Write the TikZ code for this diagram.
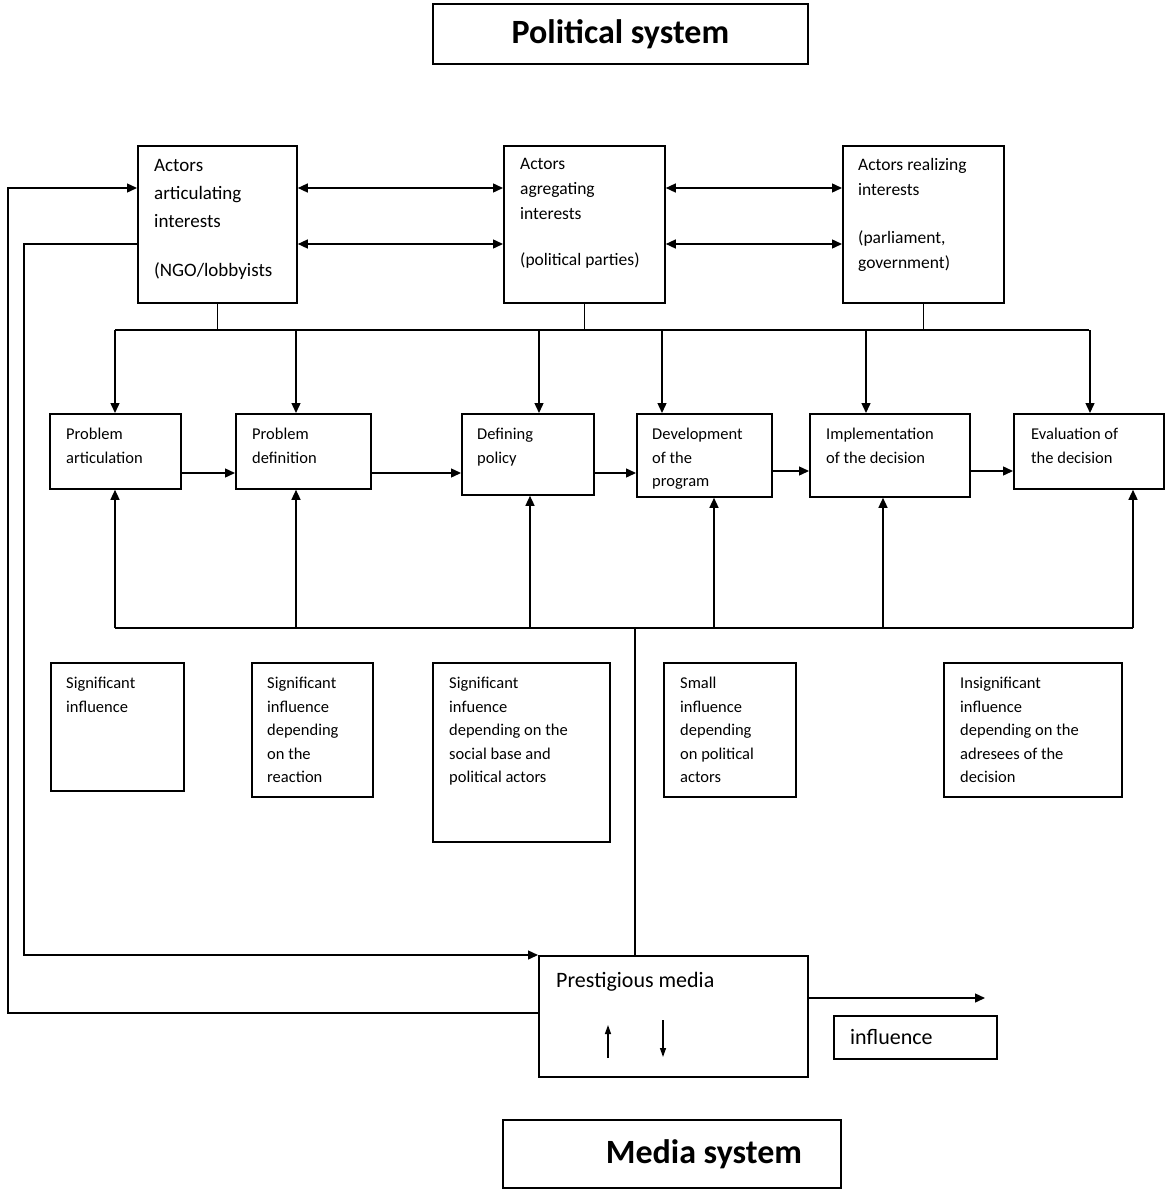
\documentclass[tikz,border=0pt]{standalone}
\usepackage{fontspec}
\setmainfont{Carlito}
\usetikzlibrary{arrows.meta}
\begin{document}
\begin{tikzpicture}[x=1pt,y=-1pt,>={Triangle[length=10pt,width=9pt]},
  box/.style 2 args={draw,line width=1.8pt,rectangle,anchor=north west,inner sep=0pt,minimum width=#1,minimum height=#2},
  intext/.style={anchor=north west,align=left,inner sep=0pt,font=\fontsize{16.5}{23.5}\selectfont},
  toptext/.style={anchor=north west,align=left,inner sep=0pt,font=\fontsize{17.5}{25}\selectfont},
  heading/.style={font=\fontsize{34}{40}\selectfont\bfseries},
  wire/.style={line width=1.4pt}]
  \useasboundingbox (0,0) rectangle (1165,1191);

  \node[box={375pt}{60pt},label={[heading]center:Political system}] (pols) at (432,3) {};
  \node[box={338pt}{68pt},label={[heading,xshift=32pt]center:Media system}] (meds) at (502,1119) {};

  \node[box={159pt}{157pt},label={[toptext,font=\fontsize{19}{28}\selectfont,xshift=17pt,yshift=-14pt]north west:{Actors\\articulating\\interests\\[21pt](NGO/lobbyists}}] (aart) at (137,145) {};
  \node[box={161pt}{157pt},label={[toptext,xshift=17pt,yshift=-13pt]north west:{Actors\\agregating\\interests\\[21pt](political parties)}}] (aagg) at (503,145) {};
  \node[box={161pt}{157pt},label={[toptext,xshift=16pt,yshift=-13pt]north west:{Actors realizing\\interests\\[23pt](parliament,\\government)}}] (arel) at (842,145) {};

  \node[box={131pt}{75pt},label={[intext,xshift=17pt,yshift=-15pt]north west:{Problem\\articulation}}] (pa) at (49,413) {};
  \node[box={135pt}{75pt},label={[intext,xshift=17pt,yshift=-15pt]north west:{Problem\\definition}}] (pd) at (235,413) {};
  \node[box={132pt}{81pt},label={[intext,xshift=16pt,yshift=-15pt]north west:{Defining\\policy}}] (dp) at (461,413) {};
  \node[box={135pt}{83pt},label={[intext,xshift=16pt,yshift=-15pt]north west:{Development\\of the\\program}}] (dv) at (636,413) {};
  \node[box={160pt}{83pt},label={[intext,xshift=17pt,yshift=-15pt]north west:{Implementation\\of the decision}}] (im) at (809,413) {};
  \node[box={150pt}{75pt},label={[intext,xshift=18pt,yshift=-15pt]north west:{Evaluation of\\the decision}}] (ev) at (1013,413) {};

  \node[box={133pt}{128pt},label={[intext,xshift=16pt,yshift=-15pt]north west:{Significant\\influence}}] (inf1) at (50,662) {};
  \node[box={121pt}{134pt},label={[intext,xshift=16pt,yshift=-15pt]north west:{Significant\\influence\\depending\\on the\\reaction}}] (inf2) at (251,662) {};
  \node[box={177pt}{179pt},label={[intext,xshift=17pt,yshift=-15pt]north west:{Significant\\infuence\\depending on the\\social base and\\political actors}}] (inf3) at (432,662) {};
  \node[box={132pt}{134pt},label={[intext,xshift=17pt,yshift=-15pt]north west:{Small\\influence\\depending\\on political\\actors}}] (inf4) at (663,662) {};
  \node[box={178pt}{134pt},label={[intext,xshift=17pt,yshift=-15pt]north west:{Insignificant\\influence\\depending on the\\adresees of the\\decision}}] (inf5) at (943,662) {};

  \node[box={269pt}{121pt},label={[anchor=north west,inner sep=0pt,font=\fontsize{22}{26}\selectfont,xshift=18pt,yshift=-17pt]north west:Prestigious media}] (pm) at (538,955) {};
  \node[box={163pt}{43pt},label={[anchor=west,inner sep=0pt,font=\fontsize{22}{26}\selectfont,xshift=17pt]west:influence}] (infl) at (833,1015) {};

  \coordinate (tb) at (0,330);
  \coordinate (bb) at (0,628);

  \draw[wire,<->] (aart.east |- 0,188) -- (aagg.west |- 0,188);
  \draw[wire,<->] (aart.east |- 0,244) -- (aagg.west |- 0,244);
  \draw[wire,<->] (aagg.east |- 0,188) -- (arel.west |- 0,188);
  \draw[wire,<->] (aagg.east |- 0,244) -- (arel.west |- 0,244);

  \draw[wire] (aart.south) -- (aart.south |- tb);
  \draw[wire] (aagg.south) -- (aagg.south |- tb);
  \draw[wire] (arel.south) -- (arel.south |- tb);
  \draw[wire] (pa.north |- tb) -- (ev.north |- tb);
  \foreach \x/\n in {115/pa,296/pd,539/dp,662/dv,866/im,1090/ev}
    \draw[wire,->] (\x,330) -- (\n.north -| \x,0);

  \draw[wire,->] (pa.east |- 0,473) -- (pd.west |- 0,473);
  \draw[wire,->] (pd.east |- 0,473) -- (dp.west |- 0,473);
  \draw[wire,->] (dp.east |- 0,473) -- (dv.west |- 0,473);
  \draw[wire,->] (dv.east |- 0,471) -- (im.west |- 0,471);
  \draw[wire,->] (im.east |- 0,471) -- (ev.west |- 0,471);

  \draw[wire] (115,628) -- (1133,628);
  \foreach \x/\n in {115/pa,296/pd,530/dp,714/dv,883/im,1133/ev}
    \draw[wire,->] (\x,628) -- (\n.south -| \x,0);
  \draw[wire] (pm.north -| 635,0) -- (635,628);

  \draw[wire,->] (pm.west |- 0,1013) -- (8,1013) -- (8,188) -- (aart.west |- 0,188);
  \draw[wire,->] (aart.west |- 0,244) -- (24,244) -- (24,955) -- (pm.north west);
  \draw[wire,->] (pm.east |- 0,998) -- (985,998);

  \draw[line width=1.3pt,-{Triangle[length=9pt,width=6pt]}] (608,1058) -- (608,1025);
  \draw[line width=1.3pt,-{Triangle[length=9pt,width=6pt]}] (663,1020) -- (663,1057);
\end{tikzpicture}
\end{document}
